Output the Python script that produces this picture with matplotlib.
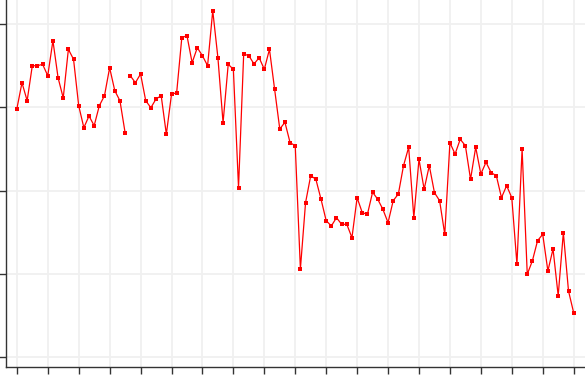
import numpy as np
import matplotlib
matplotlib.use('Agg')
import matplotlib.pyplot as plt

# values (index on x, value on y)
values = [29.80, 32.95, 30.79, 34.99, 34.99, 35.16, 33.79, 38.00, 33.55, 31.12,
          36.96, 35.76, 30.19, 27.55, 28.96, 27.79, 30.19, 31.39, 34.75, 31.99,
          30.79, 26.95, 33.79, 32.95, 34.00, 30.79, 29.95, 31.00, 31.39, 26.76,
          31.56, 31.75, 38.36, 38.60, 35.35, 37.15, 36.19, 34.99, 41.60, 35.95,
          28.15, 35.16, 34.56, 20.35, 36.40, 36.19, 35.20, 35.95, 34.56, 36.96,
          32.16, 27.39, 28.20, 25.75, 25.39, 10.59, 18.55, 21.79, 21.36, 18.96,
          16.39, 15.75, 16.75, 15.95, 15.95, 14.35, 19.15, 17.35, 17.15, 19.80,
          18.96, 17.75, 16.15, 18.79, 19.59, 22.99, 25.20, 16.75, 23.76, 20.16,
          22.99, 19.75, 18.79, 14.75, 25.75, 24.39, 26.16, 25.39, 21.36, 25.20,
          21.99, 23.40, 22.15, 21.79, 19.15, 20.59, 19.15, 11.15, 24.99, 9.95,
          11.58, 13.99, 14.75, 10.35, 12.99, 7.38, 14.95, 7.95, 5.34]
gap_after = 21  # line is broken between these two points
x_ticks = list(range(0, 109, 6))
y_ticks = [0, 10, 20, 30, 40]

x = np.arange(len(values))
y = np.array(values)

fig = plt.figure(figsize=(5.85, 3.75), dpi=100)
ax = fig.add_axes([6 / 585, 8 / 375, 1 - 6 / 585, 1 - 8 / 375])

for sl in (slice(0, gap_after + 1), slice(gap_after + 1, None)):
    ax.plot(x[sl], y[sl], color='#ff0000', linewidth=0.9, marker='s',
            markersize=3.1, markeredgewidth=0, zorder=3)

ax.set_xlim(-2.1, 110.2)
ax.set_ylim(-1.18, 42.88)
ax.set_xticks(x_ticks)
ax.set_yticks(y_ticks)
ax.set_xticklabels([])
ax.set_yticklabels([])
ax.grid(True, color='#f0f0f0', linewidth=1.3)
ax.set_axisbelow(True)

ax.spines['top'].set_visible(False)
ax.spines['right'].set_visible(False)
for s in ('left', 'bottom'):
    ax.spines[s].set_color('#333333')
    ax.spines[s].set_linewidth(1.0)
ax.tick_params(axis='both', direction='out', length=5, width=1, color='#333333')

plt.savefig('out.png', dpi=100)
